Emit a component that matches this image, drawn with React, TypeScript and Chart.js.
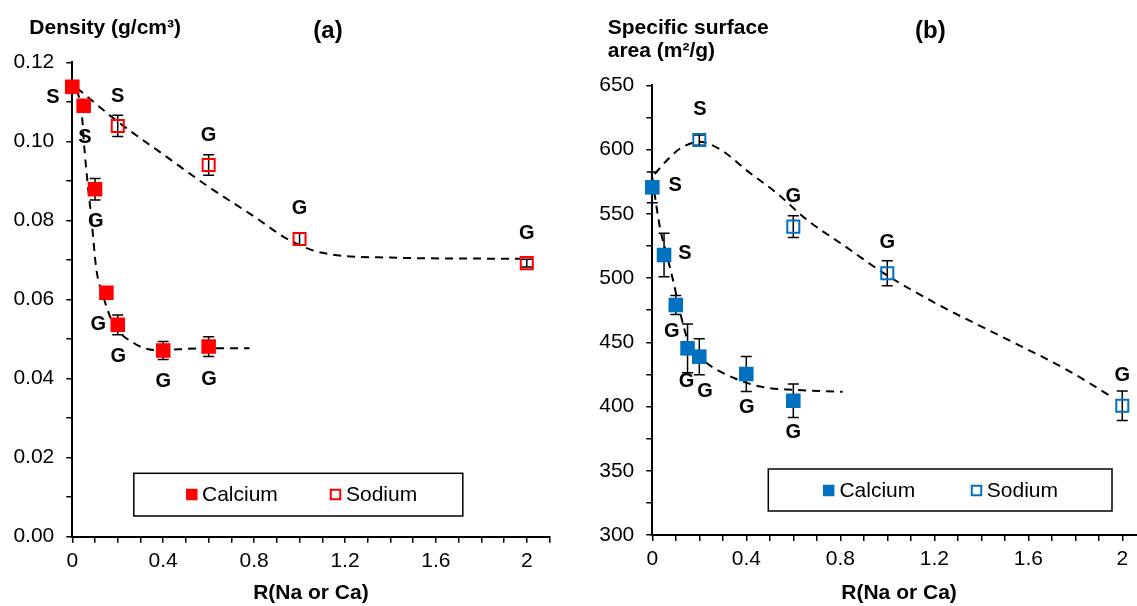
import React, { useEffect, useRef } from 'react';
import { Chart, registerables } from 'chart.js';

Chart.register(...registerables);

const FONT = '"Liberation Sans", Arial, Helvetica, sans-serif';
const RED = '#FF0000';
const BLUE = '#0070C0';

// ---------- Panel (a): density ----------
const A_CALCIUM_X = [0, 0.05, 0.1, 0.15, 0.2, 0.4, 0.6];
const A_CALCIUM_Y = [0.1138, 0.109, 0.0879, 0.0617, 0.0536, 0.0471, 0.0481];
const A_CALCIUM_ERR = [0, 0.0015, 0.0027, 0, 0.0025, 0.0023, 0.0025];
const A_SODIUM_X = [0.2, 0.6, 1.0, 2.0];
const A_SODIUM_Y = [0.1039, 0.094, 0.0753, 0.0692];
const A_SODIUM_ERR = [0.0027, 0.0026, 0.0016, 0.001];
const A_CA_FIT_X = [0.02, 0.04, 0.055, 0.07, 0.085, 0.105, 0.135, 0.18, 0.27, 0.37, 0.55, 0.78];
const A_CA_FIT_Y = [0.113, 0.108, 0.097, 0.088, 0.08, 0.068, 0.061, 0.054, 0.049, 0.0472, 0.0476, 0.0477];
const A_NA_FIT_X = [0.02, 0.2, 0.4, 0.6, 0.8, 0.95, 1.1, 1.4, 1.97];
const A_NA_FIT_Y = [0.1135, 0.105, 0.0967, 0.0885, 0.081, 0.0752, 0.0718, 0.0706, 0.0703];
const A_LABEL_X = [-0.085, 0.056, 0.2, 0.6, 0.103, 1.0, 2.0, 0.114, 0.202, 0.4, 0.602];
const A_LABEL_Y = [0.1112, 0.101, 0.1113, 0.1016, 0.0797, 0.0829, 0.0766, 0.0538, 0.0455, 0.0392, 0.0398];
const A_LABEL_TEXT = ['S', 'S', 'S', 'G', 'G', 'G', 'G', 'G', 'G', 'G', 'G'];
const A_Y_LABELS = ['0.00', '0.02', '0.04', '0.06', '0.08', '0.10', '0.12'];
const A_Y_LABEL_VALUES = [0, 0.02, 0.04, 0.06, 0.08, 0.1, 0.12];

// ---------- Panel (b): specific surface area ----------
const B_CALCIUM_X = [0, 0.05, 0.1, 0.15, 0.2, 0.4, 0.6];
const B_CALCIUM_Y = [570.6, 517.9, 479, 445.3, 438.8, 425.3, 404.5];
const B_CALCIUM_ERR = [12, 17, 7.4, 19, 14, 13.6, 13];
const B_SODIUM_X = [0.2, 0.6, 1.0, 2.0];
const B_SODIUM_Y = [607.4, 540, 503.7, 400.6];
const B_SODIUM_ERR = [4, 8.5, 9.7, 11.4];
const B_CA_FIT_X = [0, 0.02, 0.035, 0.06, 0.09, 0.12, 0.16, 0.23, 0.35, 0.46, 0.6, 0.81];
const B_CA_FIT_Y = [578, 553, 537, 519, 497, 472, 447, 434, 422, 415.5, 413, 411.5];
const B_NA_FIT_X = [0.01, 0.075, 0.12, 0.2, 0.29, 0.4, 0.53, 0.66, 0.81, 1.0, 1.22, 1.48, 1.76, 1.96];
const B_NA_FIT_Y = [581, 594, 601, 606, 600, 584, 566, 545, 526, 502, 479, 455, 429, 407];
const B_LABEL_X = [0.097, 0.203, 0.6, 1.0, 0.139, 0.083, 0.146, 0.224, 0.402, 0.6, 2.0];
const B_LABEL_Y = [572.4, 630.8, 563.8, 527.5, 519.2, 458.2, 419.3, 411.5, 399.4, 379.4, 424];
const B_LABEL_TEXT = ['S', 'S', 'G', 'G', 'S', 'G', 'G', 'G', 'G', 'G', 'G'];
const B_Y_LABELS = ['300', '350', '400', '450', '500', '550', '600', '650'];
const B_Y_LABEL_VALUES = [300, 350, 400, 450, 500, 550, 600, 650];

// ---------- shared x axis ----------
const X_LABELS = ['0', '0.4', '0.8', '1.2', '1.6', '2'];
const X_LABEL_VALUES = [0, 0.4, 0.8, 1.2, 1.6, 2];
const X_MAX = 2.1;
const X_MINOR = 0.1;
const SERIES_NAMES = ['Calcium', 'Sodium'];

const pts = (xs: number[], ys: number[]) => xs.map((x, i) => ({ x, y: ys[i] }));

const stepValues = (min: number, max: number, step: number) => {
  const out: number[] = [];
  const n = Math.round((max - min) / step);
  for (let i = 0; i <= n; i++) out.push(+(min + i * step).toFixed(6));
  return out;
};

const labelFor = (values: number[], labels: string[]) => (v: number) => {
  const i = values.findIndex((t) => Math.abs(t - v) < 1e-6);
  return i >= 0 ? labels[i] : '';
};

const errorBarPlugin = {
  id: 'errorBars',
  beforeDatasetsDraw(chart: any) {
    const { ctx } = chart;
    const xs = chart.scales.x;
    const ys = chart.scales.y;
    ctx.save();
    ctx.strokeStyle = '#000';
    ctx.lineWidth = 1.5;
    chart.data.datasets.forEach((ds: any) => {
      if (!ds.errorBars) return;
      ds.data.forEach((p: any, i: number) => {
        const e = ds.errorBars[i];
        if (!e) return;
        const px = xs.getPixelForValue(p.x);
        const top = ys.getPixelForValue(p.y + e);
        const bot = ys.getPixelForValue(p.y - e);
        const cw = 5.5;
        ctx.beginPath();
        ctx.moveTo(px, top);
        ctx.lineTo(px, bot);
        ctx.moveTo(px - cw, top);
        ctx.lineTo(px + cw, top);
        ctx.moveTo(px - cw, bot);
        ctx.lineTo(px + cw, bot);
        ctx.stroke();
      });
    });
    ctx.restore();
  },
};

const decorPlugin = {
  id: 'decor',
  afterDatasetsDraw(chart: any, _args: any, opts: any) {
    const { ctx } = chart;
    const xs = chart.scales.x;
    const ys = chart.scales.y;
    ctx.save();
    ctx.fillStyle = '#000';
    ctx.font = `bold 20px ${FONT}`;
    ctx.textAlign = 'center';
    ctx.textBaseline = 'middle';
    opts.labelText.forEach((t: string, i: number) => {
      ctx.fillText(t, xs.getPixelForValue(opts.labelX[i]), ys.getPixelForValue(opts.labelY[i]));
    });
    ctx.textAlign = 'left';
    ctx.textBaseline = 'alphabetic';
    opts.titles.forEach((tt: any) => {
      ctx.font = tt.font;
      ctx.fillText(tt.text, tt.x, tt.y);
    });
    // legend
    const L = opts.legend;
    ctx.fillStyle = '#fff';
    ctx.fillRect(L.x, L.y, L.w, L.h);
    ctx.strokeStyle = '#000';
    ctx.lineWidth = 1.5;
    ctx.strokeRect(L.x, L.y, L.w, L.h);
    ctx.font = `21px ${FONT}`;
    ctx.textBaseline = 'middle';
    const s = L.size;
    L.items.forEach((it: any, i: number) => {
      const ds = chart.data.datasets[i];
      if (it.filled) {
        ctx.fillStyle = opts.color;
        ctx.fillRect(it.sx - s / 2, L.cy - s / 2, s, s);
      } else {
        ctx.strokeStyle = opts.color;
        ctx.lineWidth = 2;
        ctx.strokeRect(it.sx - s / 2 + 1, L.cy - s / 2 + 1, s - 2, s - 2);
      }
      ctx.fillStyle = '#000';
      ctx.fillText(ds.label, it.tx, L.cy + 1);
    });
    ctx.restore();
  },
};

function buildConfig(p: any) {
  const xTicks = stepValues(0, X_MAX, X_MINOR);
  const yTicks = stepValues(p.yMin, p.yMax, p.yMinor);
  const xLabel = labelFor(X_LABEL_VALUES, X_LABELS);
  const yLabel = labelFor(p.yLabelValues, p.yLabels);
  const tickFont = { family: FONT, size: 21 };
  const gridOpts = {
    display: true,
    drawOnChartArea: false,
    drawTicks: true,
    tickLength: 6,
    color: '#000',
    lineWidth: 1.5,
  };
  const fit = (xs: number[], ys: number[]) => ({
    label: 'fit',
    data: pts(xs, ys),
    showLine: true,
    pointRadius: 0,
    pointHoverRadius: 0,
    borderColor: '#000',
    borderWidth: 2,
    borderDash: [8, 6],
    cubicInterpolationMode: 'monotone',
    fill: false,
    order: 1,
  });
  return {
    type: 'scatter',
    data: {
      datasets: [
        {
          label: SERIES_NAMES[0],
          data: pts(p.caX, p.caY),
          errorBars: p.caErr,
          pointStyle: 'rect',
          pointRadius: 10.3,
          pointHoverRadius: 10.3,
          pointBackgroundColor: p.color,
          pointBorderColor: p.color,
          pointBorderWidth: 0,
          showLine: false,
          clip: false,
          order: 0,
        },
        {
          label: SERIES_NAMES[1],
          data: pts(p.naX, p.naY),
          errorBars: p.naErr,
          pointStyle: 'rect',
          pointRadius: 8.5,
          pointHoverRadius: 8.5,
          pointBackgroundColor: 'rgba(255,255,255,0)',
          pointBorderColor: p.color,
          pointBorderWidth: 2,
          showLine: false,
          clip: false,
          order: 0,
        },
        fit(p.caFitX, p.caFitY),
        fit(p.naFitX, p.naFitY),
      ],
    },
    options: {
      responsive: false,
      animation: false,
      devicePixelRatio: 1,
      events: [],
      layout: { padding: { top: p.padTop, right: p.padRight, left: 0, bottom: 0 } },
      plugins: {
        legend: { display: false },
        tooltip: { enabled: false },
        decor: {
          labelX: p.labelX,
          labelY: p.labelY,
          labelText: p.labelText,
          titles: p.titles,
          legend: p.legend,
          color: p.color,
        },
      },
      scales: {
        x: {
          type: 'linear',
          min: 0,
          max: X_MAX,
          afterBuildTicks: (s: any) => {
            s.ticks = xTicks.map((v) => ({ value: v }));
          },
          afterFit: (s: any) => {
            s.height = p.xAxisHeight;
          },
          ticks: {
            autoSkip: false,
            maxRotation: 0,
            minRotation: 0,
            padding: 6,
            color: '#000',
            font: tickFont,
            callback: (v: number) => xLabel(v),
          },
          grid: gridOpts,
          border: { display: true, color: '#000', width: 2 },
          title: {
            display: true,
            text: 'R(Na or Ca)',
            color: '#000',
            font: { family: FONT, size: 21, weight: 'bold' },
            padding: 0,
          },
        },
        y: {
          type: 'linear',
          min: p.yMin,
          max: p.yMax,
          afterBuildTicks: (s: any) => {
            s.ticks = yTicks.map((v) => ({ value: v }));
          },
          afterFit: (s: any) => {
            s.width = p.yAxisWidth;
          },
          ticks: {
            autoSkip: false,
            padding: 12,
            color: '#000',
            font: tickFont,
            callback: (v: number) => yLabel(v),
          },
          grid: gridOpts,
          border: { display: true, color: '#000', width: 2 },
        },
      },
    },
    plugins: [errorBarPlugin, decorPlugin],
  };
}

const PANEL_A = {
  color: RED,
  caX: A_CALCIUM_X, caY: A_CALCIUM_Y, caErr: A_CALCIUM_ERR,
  naX: A_SODIUM_X, naY: A_SODIUM_Y, naErr: A_SODIUM_ERR,
  caFitX: A_CA_FIT_X, caFitY: A_CA_FIT_Y,
  naFitX: A_NA_FIT_X, naFitY: A_NA_FIT_Y,
  labelX: A_LABEL_X, labelY: A_LABEL_Y, labelText: A_LABEL_TEXT,
  yMin: 0, yMax: 0.12, yMinor: 0.01,
  yLabels: A_Y_LABELS, yLabelValues: A_Y_LABEL_VALUES,
  padTop: 62.3, padRight: 10, yAxisWidth: 72.3, xAxisHeight: 69.3,
  width: 560,
  titles: [
    { text: 'Density (g/cm³)', x: 29.3, y: 34.3, font: `bold 21px ${FONT}` },
    { text: '(a)', x: 313.3, y: 38.3, font: `bold 24px ${FONT}` },
  ],
  legend: {
    x: 133.8, y: 473.3, w: 329, h: 42.7, cy: 494.5, size: 11.5,
    items: [
      { sx: 191.8, tx: 202, filled: true },
      { sx: 335.5, tx: 346, filled: false },
    ],
  },
};

const PANEL_B = {
  color: BLUE,
  caX: B_CALCIUM_X, caY: B_CALCIUM_Y, caErr: B_CALCIUM_ERR,
  naX: B_SODIUM_X, naY: B_SODIUM_Y, naErr: B_SODIUM_ERR,
  caFitX: B_CA_FIT_X, caFitY: B_CA_FIT_Y,
  naFitX: B_NA_FIT_X, naFitY: B_NA_FIT_Y,
  labelX: B_LABEL_X, labelY: B_LABEL_Y, labelText: B_LABEL_TEXT,
  yMin: 300, yMax: 650, yMinor: 25,
  yLabels: B_Y_LABELS, yLabelValues: B_Y_LABEL_VALUES,
  padTop: 85.3, padRight: 14.2, yAxisWidth: 92.3, xAxisHeight: 71,
  width: 600,
  titles: [
    { text: 'Specific surface', x: 47.7, y: 34.3, font: `bold 21px ${FONT}` },
    { text: 'area (m²/g)', x: 47.7, y: 57.3, font: `bold 21px ${FONT}` },
    { text: '(b)', x: 355, y: 38.3, font: `bold 24px ${FONT}` },
  ],
  legend: {
    x: 208.3, y: 469, w: 343.7, h: 42, cy: 490.5, size: 11.5,
    items: [
      { sx: 268.7, tx: 279.4, filled: true },
      { sx: 416.5, tx: 426.8, filled: false },
    ],
  },
};

function PanelChart({ panel, left }: { panel: any; left: number }) {
  const ref = useRef<HTMLCanvasElement>(null);
  useEffect(() => {
    const chart = new Chart(ref.current as HTMLCanvasElement, buildConfig(panel) as any);
    return () => chart.destroy();
  }, [panel]);
  return (
    <canvas
      ref={ref}
      width={panel.width}
      height={606}
      style={{ position: 'absolute', left, top: 0, width: panel.width, height: 606, display: 'block' }}
    />
  );
}

export default function App() {
  return (
    <div
      style={{
        position: 'absolute',
        left: 0,
        top: 0,
        width: 1137,
        height: 606,
        overflow: 'hidden',
        background: '#fff',
      }}
    >
      <PanelChart panel={PANEL_A} left={0} />
      <PanelChart panel={PANEL_B} left={560} />
    </div>
  );
}
